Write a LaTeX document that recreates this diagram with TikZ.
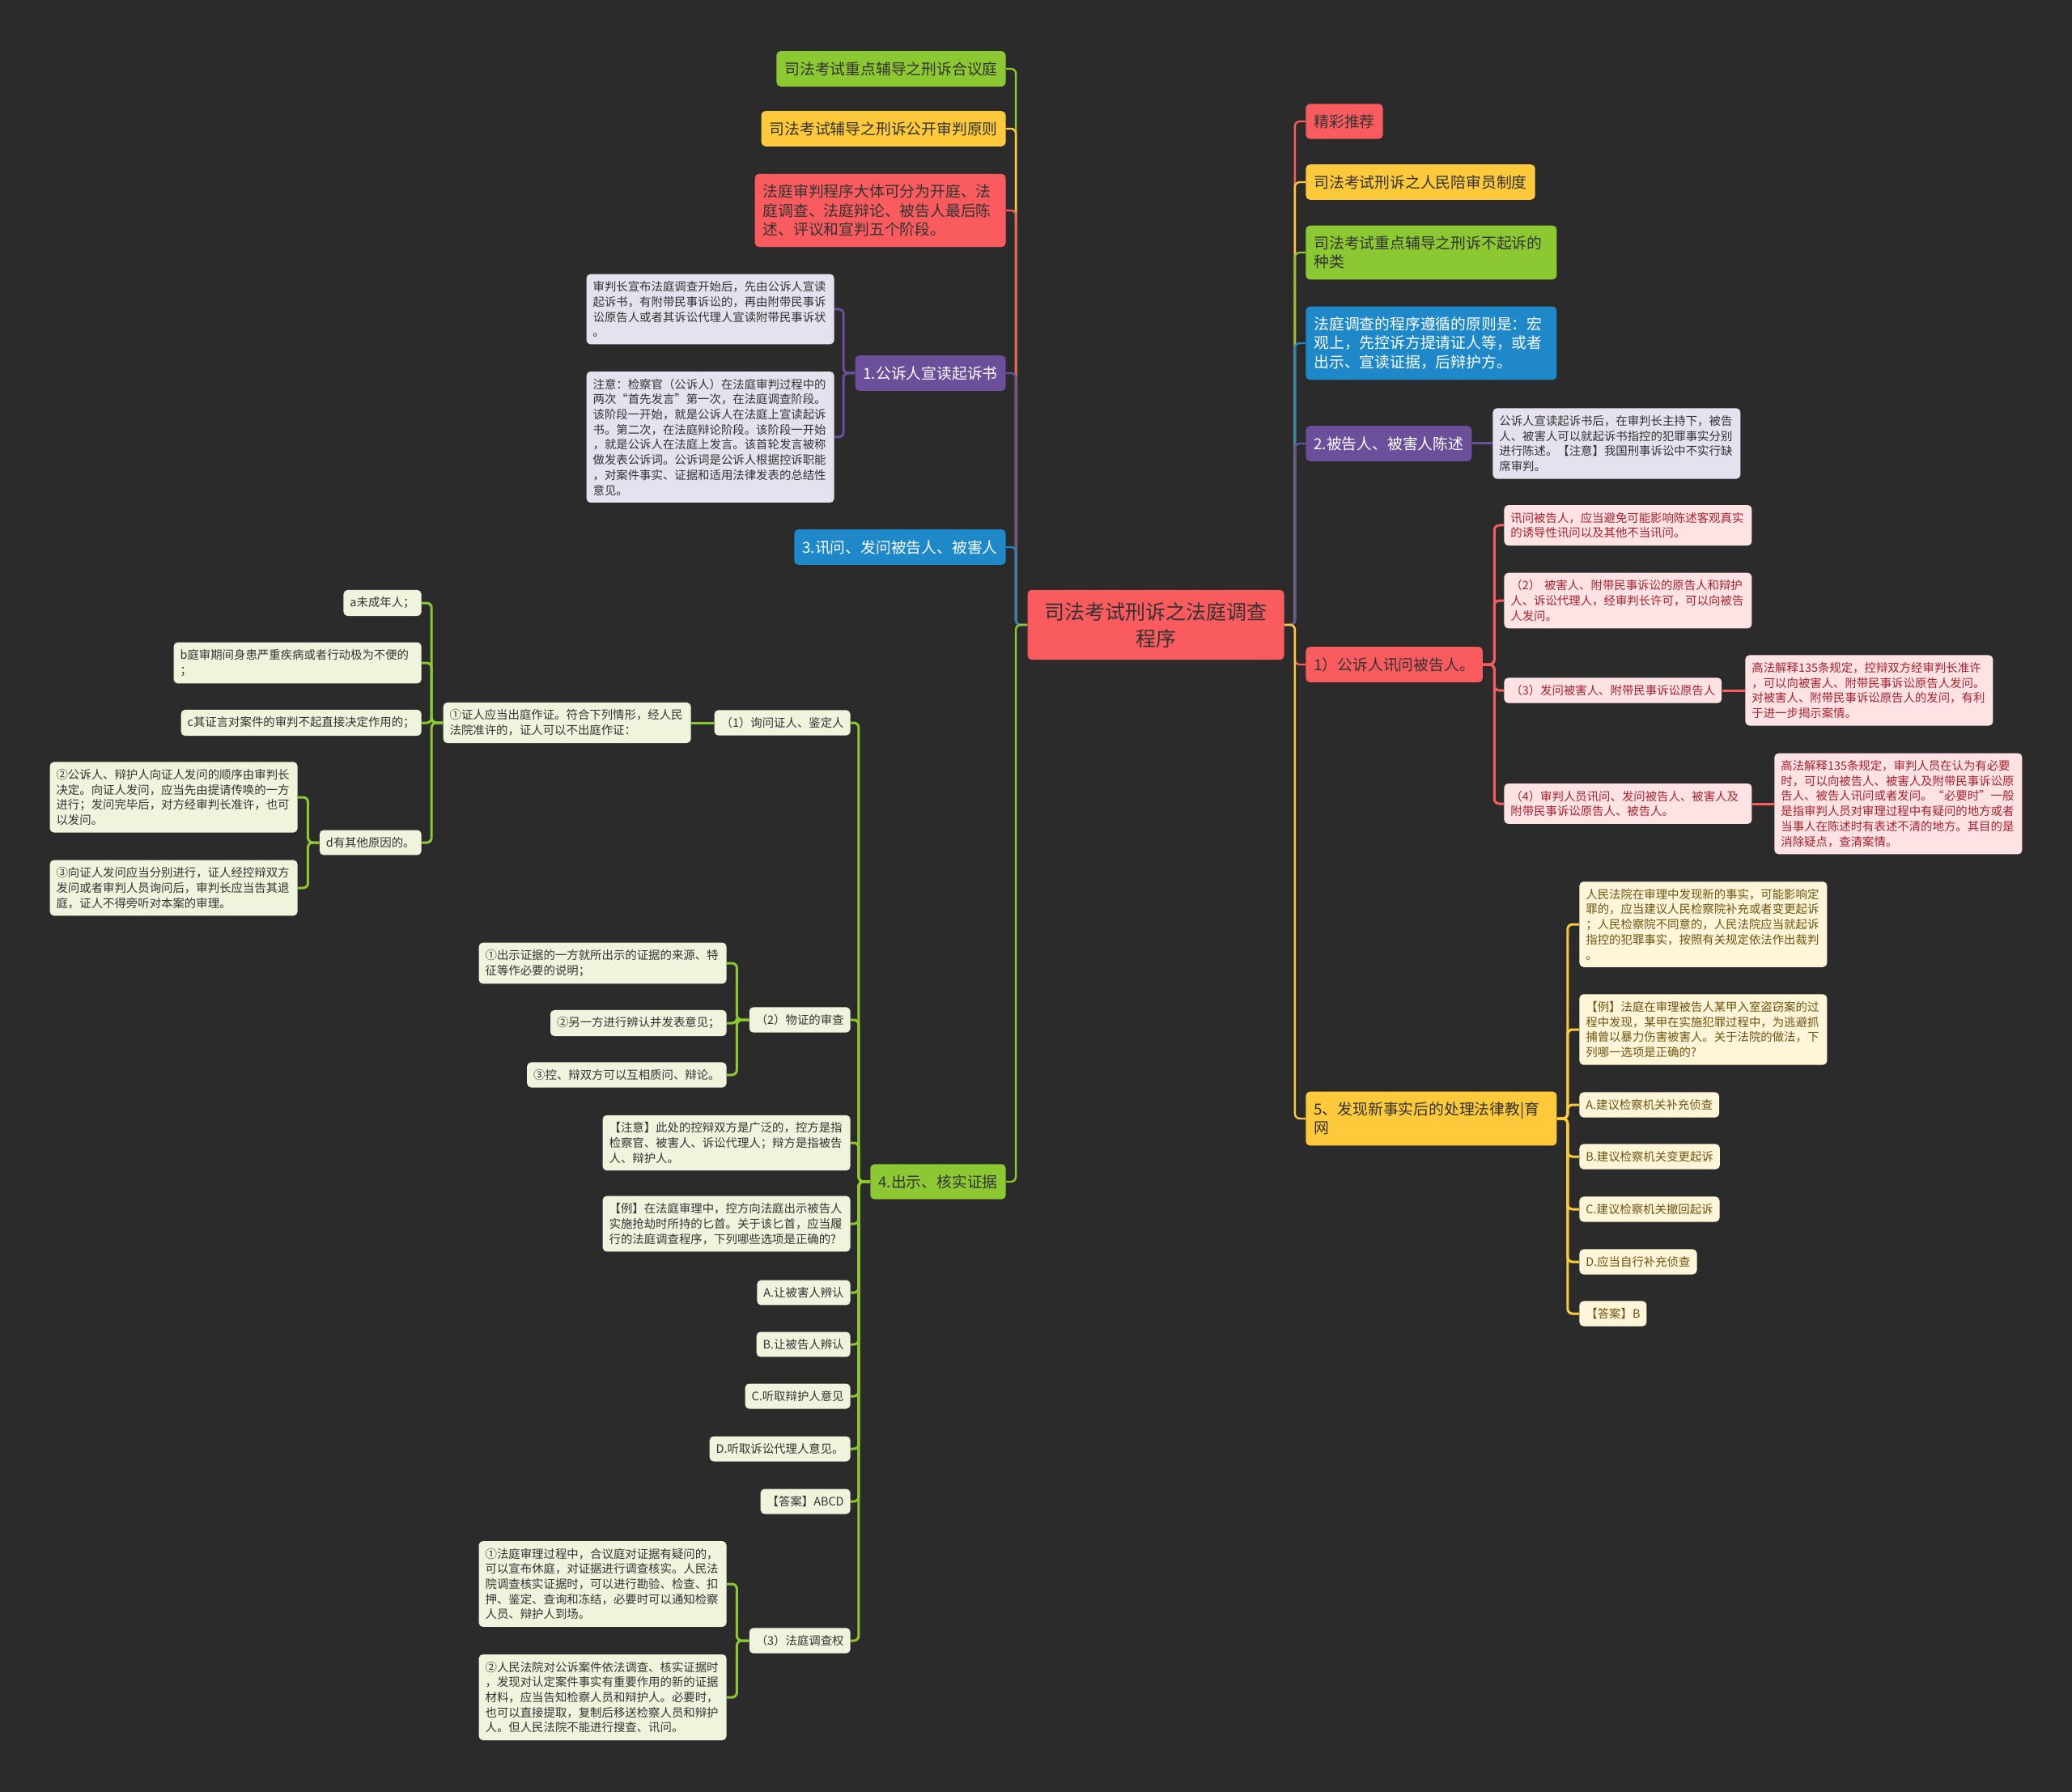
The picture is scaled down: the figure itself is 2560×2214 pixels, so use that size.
\documentclass[tikz,border=0pt]{standalone}
\usepackage{fontspec}
\setmainfont{Noto Sans CJK SC}
\definecolor{bgdark}{HTML}{2B2B2B}
\definecolor{ink}{HTML}{333333}
\definecolor{mmred}{HTML}{FA5B5E}
\definecolor{mmyellow}{HTML}{FFC93C}
\definecolor{mmgreen}{HTML}{8CC832}
\definecolor{mmblue}{HTML}{1E88C8}
\definecolor{mmpurple}{HTML}{6B4F9B}
\definecolor{lgreen}{HTML}{EEF5DC}
\definecolor{lpurple}{HTML}{E6E1EE}
\definecolor{lred}{HTML}{FFE3E4}
\definecolor{lredink}{HTML}{A5222E}
\definecolor{lyellow}{HTML}{FFF6DA}
\definecolor{lyellowink}{HTML}{6E5410}

\tikzset{
  mmtop/.style={rounded corners=2.5pt, inner xsep=5pt, inner ysep=6.5pt,
    font=\fontsize{9.4}{11.65}\selectfont, align=left, text=ink},
  topR/.style={mmtop, fill=mmred},
  topY/.style={mmtop, fill=mmyellow},
  topG/.style={mmtop, fill=mmgreen},
  topB/.style={mmtop, fill=mmblue, text=white},
  topP/.style={mmtop, fill=mmpurple, text=white},
  mmleaf/.style={rounded corners=2.5pt, inner xsep=4pt, inner ysep=4.4pt,
    font=\fontsize{7.2}{9.35}\selectfont, align=left},
  leafG/.style={mmleaf, fill=lgreen, text=ink},
  leafP/.style={mmleaf, fill=lpurple, text=ink},
  leafR/.style={mmleaf, fill=lred, text=lredink},
  leafY/.style={mmleaf, fill=lyellow, text=lyellowink},
  wide/.style={text width=145pt},
  link/.style={line width=1.5pt, rounded corners=3pt},
  mainlink/.style={line width=1.2pt, rounded corners=3pt},
}

\begin{document}
\begin{tikzpicture}[x=0.5pt, y=-0.5pt]
  \fill[bgdark] (0,0) rectangle (2560,2214);

  % root
  \node[mmtop, fill=mmred, minimum width=158.5pt, align=center, inner ysep=7.5pt,
    font=\fontsize{12.5}{16.5}\selectfont] (root) at (1428,772)
    {司法考试刑诉之法庭调查\\程序};

  % left main branches
  \node[topG, anchor=east] (nL1) at (1243,85) {司法考试重点辅导之刑诉合议庭};
  \node[topY, anchor=east] (nL2) at (1243,159) {司法考试辅导之刑诉公开审判原则};
  \node[topR, wide, anchor=east] (nL3) at (1243,260)
    {法庭审判程序大体可分为开庭、法\\庭调查、法庭辩论、被告人最后陈\\述、评议和宣判五个阶段。};
  \node[topP, anchor=east] (nL4) at (1243,461) {1.公诉人宣读起诉书};
  \node[topB, anchor=east] (nL5) at (1243,676) {3.讯问、发问被告人、被害人};
  \node[topG, anchor=east] (nL6) at (1243,1460) {4.出示、核实证据};

  % 1.公诉人宣读起诉书
  \node[leafP, wide, anchor=east] (pA) at (1031,382)
    {审判长宣布法庭调查开始后，先由公诉人宣读\\起诉书，有附带民事诉讼的，再由附带民事诉\\讼原告人或者其诉讼代理人宣读附带民事诉状\\。};
  \node[leafP, wide, anchor=east] (pB) at (1031,540)
    {注意：检察官（公诉人）在法庭审判过程中的\\两次“首先发言”第一次，在法庭调查阶段。\\该阶段一开始，就是公诉人在法庭上宣读起诉\\书。第二次，在法庭辩论阶段。该阶段一开始\\，就是公诉人在法庭上发言。该首轮发言被称\\做发表公诉词。公诉词是公诉人根据控诉职能\\，对案件事实、证据和适用法律发表的总结性\\意见。};

  % 4.出示、核实证据
  \node[leafG, anchor=east] (g1) at (1051,893) {（1）询问证人、鉴定人};
  \node[leafG, wide, anchor=east] (g1a) at (854,893)
    {①证人应当出庭作证。符合下列情形，经人民\\法院准许的，证人可以不出庭作证：};
  \node[leafG, anchor=east] (ga) at (521,745) {a未成年人；};
  \node[leafG, wide, anchor=east] (gb) at (521,819) {b庭审期间身患严重疾病或者行动极为不便的\\；};
  \node[leafG, anchor=east] (gc) at (521,893) {c其证言对案件的审判不起直接决定作用的；};
  \node[leafG, anchor=east] (gd) at (521,1041) {d有其他原因的。};
  \node[leafG, wide, anchor=east] (gd1) at (368,985)
    {②公诉人、辩护人向证人发问的顺序由审判长\\决定。向证人发问，应当先由提请传唤的一方\\进行；发问完毕后，对方经审判长准许，也可\\以发问。};
  \node[leafG, wide, anchor=east] (gd2) at (368,1097)
    {③向证人发问应当分别进行，证人经控辩双方\\发问或者审判人员询问后，审判长应当告其退\\庭，证人不得旁听对本案的审理。};

  \node[leafG, anchor=east] (g2) at (1051,1260) {（2）物证的审查};
  \node[leafG, wide, anchor=east] (g2a) at (898,1190)
    {①出示证据的一方就所出示的证据的来源、特\\征等作必要的说明；};
  \node[leafG, anchor=east] (g2b) at (898,1264) {②另一方进行辨认并发表意见；};
  \node[leafG, anchor=east] (g2c) at (898,1328) {③控、辩双方可以互相质问、辩论。};

  \node[leafG, wide, anchor=east] (gNote) at (1051,1412)
    {【注意】此处的控辩双方是广泛的，控方是指\\检察官、被害人、诉讼代理人；辩方是指被告\\人、辩护人。};
  \node[leafG, wide, anchor=east] (gEx) at (1051,1512)
    {【例】在法庭审理中，控方向法庭出示被告人\\实施抢劫时所持的匕首。关于该匕首，应当履\\行的法庭调查程序，下列哪些选项是正确的?};
  \node[leafG, anchor=east] (gA) at (1051,1597) {A.让被害人辨认};
  \node[leafG, anchor=east] (gB) at (1051,1661) {B.让被告人辨认};
  \node[leafG, anchor=east] (gC) at (1051,1725) {C.听取辩护人意见};
  \node[leafG, anchor=east] (gD) at (1051,1790) {D.听取诉讼代理人意见。};
  \node[leafG, anchor=east] (gAns) at (1051,1855) {【答案】ABCD};

  \node[leafG, anchor=east] (g3) at (1051,2027) {（3）法庭调查权};
  \node[leafG, wide, anchor=east] (g3a) at (898,1957)
    {①法庭审理过程中，合议庭对证据有疑问的，\\可以宣布休庭，对证据进行调查核实。人民法\\院调查核实证据时，可以进行勘验、检查、扣\\押、鉴定、查询和冻结，必要时可以通知检察\\人员、辩护人到场。};
  \node[leafG, wide, anchor=east] (g3b) at (898,2097)
    {②人民法院对公诉案件依法调查、核实证据时\\，发现对认定案件事实有重要作用的新的证据\\材料，应当告知检察人员和辩护人。必要时，\\也可以直接提取，复制后移送检察人员和辩护\\人。但人民法院不能进行搜查、讯问。};

  % right main branches
  \node[topR, anchor=west] (nR1) at (1613,150) {精彩推荐};
  \node[topY, anchor=west] (nR2) at (1613,225) {司法考试刑诉之人民陪审员制度};
  \node[topG, wide, anchor=west] (nR3) at (1613,312) {司法考试重点辅导之刑诉不起诉的\\种类};
  \node[topB, wide, anchor=west] (nR4) at (1613,424)
    {法庭调查的程序遵循的原则是：宏\\观上，先控诉方提请证人等，或者\\出示、宣读证据，后辩护方。};
  \node[topP, anchor=west] (nR5) at (1613,548) {2.被告人、被害人陈述};
  \node[topR, anchor=west] (nR6) at (1613,821) {1）公诉人讯问被告人。};
  \node[topY, wide, anchor=west] (nR7) at (1613,1382) {5、发现新事实后的处理法律教|育\\网};

  % 2.被告人、被害人陈述
  \node[leafP, wide, anchor=west] (rP) at (1844,548)
    {公诉人宣读起诉书后，在审判长主持下，被告\\人、被害人可以就起诉书指控的犯罪事实分别\\进行陈述。【注意】我国刑事诉讼中不实行缺\\席审判。};

  % 1）公诉人讯问被告人。
  \node[leafR, wide, anchor=west] (r1) at (1858,649)
    {讯问被告人，应当避免可能影响陈述客观真实\\的诱导性讯问以及其他不当讯问。};
  \node[leafR, wide, anchor=west] (r2) at (1858,742)
    {（2） 被害人、附带民事诉讼的原告人和辩护\\人、诉讼代理人，经审判长许可，可以向被告\\人发问。};
  \node[leafR, anchor=west] (r3) at (1858,853) {（3）发问被害人、附带民事诉讼原告人};
  \node[leafR, wide, anchor=west] (r4) at (1858,993)
    {（4）审判人员讯问、发问被告人、被害人及\\附带民事诉讼原告人、被告人。};
  \node[leafR, wide, anchor=west] (r3a) at (2156,853)
    {高法解释135条规定，控辩双方经审判长准许\\，可以向被害人、附带民事诉讼原告人发问。\\对被害人、附带民事诉讼原告人的发问，有利\\于进一步揭示案情。};
  \node[leafR, wide, anchor=west] (r4a) at (2192,993)
    {高法解释135条规定，审判人员在认为有必要\\时，可以向被告人、被害人及附带民事诉讼原\\告人、被告人讯问或者发问。“必要时”一般\\是指审判人员对审理过程中有疑问的地方或者\\当事人在陈述时有表述不清的地方。其目的是\\消除疑点，查清案情。};

  % 5、发现新事实后的处理
  \node[leafY, wide, anchor=west] (y1) at (1951,1142)
    {人民法院在审理中发现新的事实，可能影响定\\罪的，应当建议人民检察院补充或者变更起诉\\；人民检察院不同意的，人民法院应当就起诉\\指控的犯罪事实，按照有关规定依法作出裁判\\。};
  \node[leafY, wide, anchor=west] (y2) at (1951,1272)
    {【例】法庭在审理被告人某甲入室盗窃案的过\\程中发现，某甲在实施犯罪过程中，为逃避抓\\捕曾以暴力伤害被害人。关于法院的做法，下\\列哪一选项是正确的?};
  \node[leafY, anchor=west] (yA) at (1951,1365) {A.建议检察机关补充侦查};
  \node[leafY, anchor=west] (yB) at (1951,1429) {B.建议检察机关变更起诉};
  \node[leafY, anchor=west] (yC) at (1951,1494) {C.建议检察机关撤回起诉};
  \node[leafY, anchor=west] (yD) at (1951,1559) {D.应当自行补充侦查};
  \node[leafY, anchor=west] (yAns) at (1951,1623) {【答案】B};

  % connectors, outer ones first
  \foreach \n/\c in {nL1/mmgreen, nL2/mmyellow, nL3/mmred, nL4/mmpurple, nL5/mmblue, nL6/mmgreen}
    \draw[mainlink, \c] (root.west) -- ++(-14,0) |- (\n.east);
  \foreach \n/\c in {nR1/mmred, nR2/mmyellow, nR3/mmgreen, nR4/mmblue, nR5/mmpurple, nR6/mmred, nR7/mmyellow}
    \draw[mainlink, \c] (root.east) -- ++(13,0) |- (\n.west);

  \foreach \n in {pA, pB}
    \draw[link, mmpurple] (nL4.west) -- ++(-14,0) |- (\n.east);
  \draw[link, mmpurple] (nR5.east) -- (rP.west);

  \foreach \n in {g1, g2, gNote, gEx, gA, gB, gC, gD, gAns, g3}
    \draw[link, mmgreen] (nL6.west) -- ++(-14,0) |- (\n.east);
  \draw[link, mmgreen] (g1.west) -- (g1a.east);
  \foreach \n in {ga, gb, gc, gd}
    \draw[link, mmgreen] (g1a.west) -- ++(-14,0) |- (\n.east);
  \foreach \n in {gd1, gd2}
    \draw[link, mmgreen] (gd.west) -- ++(-14,0) |- (\n.east);
  \foreach \n in {g2a, g2b, g2c}
    \draw[link, mmgreen] (g2.west) -- ++(-15,0) |- (\n.east);
  \foreach \n in {g3a, g3b}
    \draw[link, mmgreen] (g3.west) -- ++(-15,0) |- (\n.east);

  \foreach \n in {r1, r2, r3, r4}
    \draw[link, mmred] (nR6.east) -- ++(14,0) |- (\n.west);
  \draw[link, mmred] (r3.east) -- (r3a.west);
  \draw[link, mmred] (r4.east) -- (r4a.west);

  \foreach \n in {y1, y2, yA, yB, yC, yD, yAns}
    \draw[link, mmyellow] (nR7.east) -- ++(13,0) |- (\n.west);
\end{tikzpicture}
\end{document}
